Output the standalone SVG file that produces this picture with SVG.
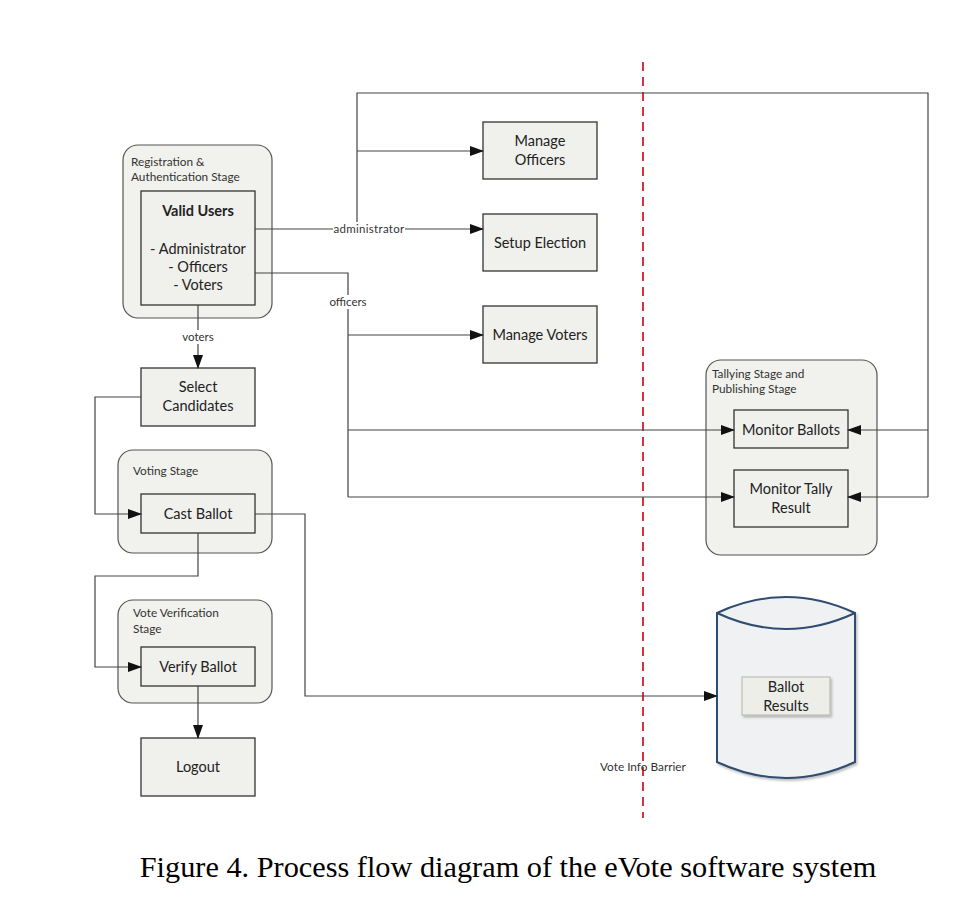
<svg xmlns="http://www.w3.org/2000/svg" width="970" height="903" viewBox="0 0 970 903">
<defs>
<marker id="ah" markerWidth="14" markerHeight="10" refX="13" refY="5" orient="auto" markerUnits="userSpaceOnUse">
<path d="M0,0 L14,5 L0,10 Z" fill="#111"/>
</marker>
<filter id="sh" x="-10%" y="-10%" width="130%" height="140%">
<feDropShadow dx="1.5" dy="2" stdDeviation="1.2" flood-color="#000" flood-opacity="0.25"/>
</filter>
</defs>
<style>
.stage{fill:#f1f1ed;stroke:#555;stroke-width:1.2}
.box{fill:#f0f0ec;stroke:#333;stroke-width:1.3}
.t{font-family:Lato,"Liberation Sans",sans-serif;font-size:14.5px;fill:#222;text-anchor:middle}
.s{font-family:Lato,"Liberation Sans",sans-serif;font-size:11.8px;fill:#333}
.lbl{font-family:Lato,"Liberation Sans",sans-serif;font-size:11.5px;fill:#333;text-anchor:middle}
.ln{fill:none;stroke:#444;stroke-width:1.2}
.ar{fill:none;stroke:#444;stroke-width:1.2;marker-end:url(#ah)}
</style>
<rect width="970" height="903" fill="#fff"/>

<g id="barrier">
<line x1="643" y1="62" x2="643" y2="818" stroke="#d9333f" stroke-width="2" stroke-dasharray="9,6"/>
<text class="s" x="600" y="771">Vote Info Barrier</text>
</g>

<g id="registration-stage">
<rect class="stage" x="123" y="145" width="149" height="173" rx="15"/>
<text class="s" x="131" y="166">Registration &amp;</text>
<text class="s" x="131" y="181">Authentication Stage</text>
</g>
<g id="valid-users">
<rect class="box" x="141" y="191" width="114" height="114"/>
<text class="t" x="198" y="216" font-weight="bold">Valid Users</text>
<text class="t" x="198" y="254">- Administrator</text>
<text class="t" x="198" y="272">- Officers</text>
<text class="t" x="198" y="290">- Voters</text>
</g>

<g id="manage-officers">
<rect class="box" x="483" y="122" width="114" height="57"/>
<text class="t" x="540" y="146">Manage</text>
<text class="t" x="540" y="165">Officers</text>
</g>
<g id="setup-election">
<rect class="box" x="483" y="214" width="114" height="57"/>
<text class="t" x="540" y="248">Setup Election</text>
</g>
<g id="manage-voters">
<rect class="box" x="483" y="306" width="114" height="57"/>
<text class="t" x="540" y="340">Manage Voters</text>
</g>

<g id="tallying-stage">
<rect class="stage" x="706" y="360" width="171" height="195" rx="15"/>
<text class="s" x="712" y="378">Tallying Stage and</text>
<text class="s" x="712" y="393">Publishing Stage</text>
</g>
<g id="monitor-ballots">
<rect class="box" x="734" y="410" width="114" height="38"/>
<text class="t" x="791" y="435">Monitor Ballots</text>
</g>
<g id="monitor-tally">
<rect class="box" x="734" y="470" width="114" height="57"/>
<text class="t" x="791" y="494">Monitor Tally</text>
<text class="t" x="791" y="513">Result</text>
</g>

<g id="select-candidates">
<rect class="box" x="141" y="368" width="114" height="58"/>
<text class="t" x="198" y="392">Select</text>
<text class="t" x="198" y="411">Candidates</text>
</g>

<g id="voting-stage">
<rect class="stage" x="118" y="450" width="154" height="103" rx="15"/>
<text class="s" x="133" y="475">Voting Stage</text>
</g>
<g id="cast-ballot">
<rect class="box" x="141" y="494" width="114" height="39"/>
<text class="t" x="198" y="519">Cast Ballot</text>
</g>

<g id="verification-stage">
<rect class="stage" x="118" y="600" width="154" height="103" rx="15"/>
<text class="s" x="133" y="617">Vote Verification</text>
<text class="s" x="133" y="633">Stage</text>
</g>
<g id="verify-ballot">
<rect class="box" x="141" y="647" width="114" height="39"/>
<text class="t" x="198" y="672">Verify Ballot</text>
</g>

<g id="logout">
<rect class="box" x="141" y="738" width="114" height="58"/>
<text class="t" x="198" y="772">Logout</text>
</g>

<g id="ballot-results-db">
<path d="M717,613 Q786,581 855,613 L855,762 Q786,794 717,762 Z" fill="#eff1f3" stroke="#2f4d70" stroke-width="2" filter="url(#sh)"/>
<path d="M717,613 Q786,645 855,613" fill="none" stroke="#2f4d70" stroke-width="2"/>
<rect x="742" y="677" width="88" height="38" fill="#eeeee9" stroke="#b5b5a8" stroke-width="1" filter="url(#sh)"/>
<text class="t" x="786" y="692">Ballot</text>
<text class="t" x="786" y="711">Results</text>
</g>

<g id="connectors">
<path class="ar" d="M255,229 L483,229"/>
<path class="ln" d="M357,229 L357,93 L928,93 L928,497"/>
<path class="ar" d="M357,151 L483,151"/>
<path class="ar" d="M928,430 L848,430"/>
<path class="ar" d="M928,497 L848,497"/>
<rect x="333" y="222" width="72" height="14" fill="#fff"/>
<text class="lbl" x="369" y="233" letter-spacing="0.3">administrator</text>
<path class="ln" d="M255,273 L348,273 L348,497"/>
<path class="ar" d="M348,335 L483,335"/>
<path class="ar" d="M348,430 L734,430"/>
<path class="ar" d="M348,497 L734,497"/>
<rect x="328" y="295" width="41" height="14" fill="#fff"/>
<text class="lbl" x="348" y="306">officers</text>
<path class="ar" d="M198,305 L198,368"/>
<rect x="180" y="330" width="36" height="14" fill="#fff"/>
<text class="lbl" x="198" y="341">voters</text>
<path class="ar" d="M141,397 L95,397 L95,514 L141,514"/>
<path class="ar" d="M198,533 L198,576 L95,576 L95,667 L141,667"/>
<path class="ar" d="M198,686 L198,738"/>
<path class="ar" d="M255,514 L305,514 L305,696 L717,696"/>
</g>

<text x="508" y="877" font-family="'Liberation Serif',serif" font-size="30.3" fill="#000" text-anchor="middle">Figure 4. Process flow diagram of the eVote software system</text>
</svg>
